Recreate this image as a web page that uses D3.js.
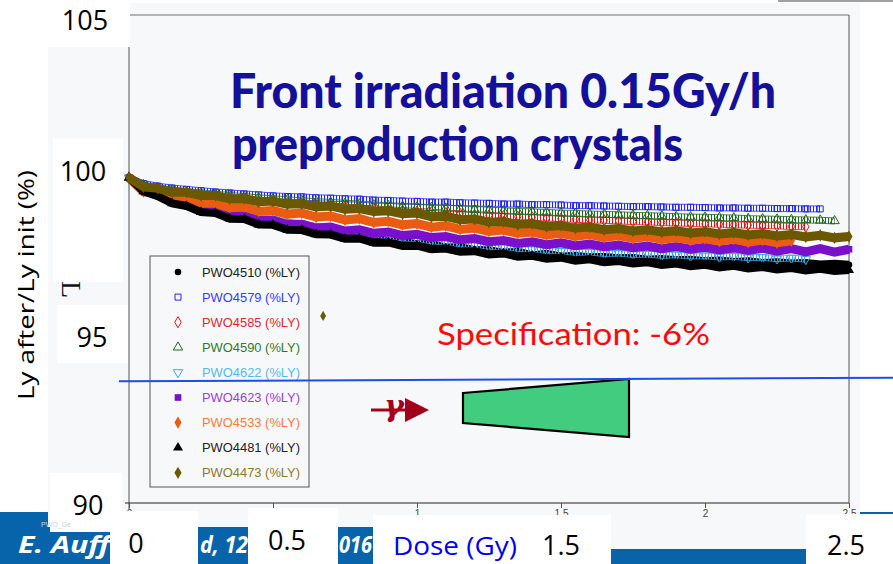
<!DOCTYPE html>
<html>
<head>
<meta charset="utf-8">
<script src="https://cdn.jsdelivr.net/npm/d3@7/dist/d3.min.js"></script>
<style>
  html, body { margin: 0; padding: 0; background: #fff; }
  svg { display: block; }
</style>
</head>
<body>
<svg id="chart" width="893" height="564"></svg>
<script>
// Relative light yield vs accumulated dose, front irradiation at 0.15 Gy/h
const doses = [0.00, 0.05, 0.10, 0.15, 0.20, 0.25, 0.30, 0.35, 0.40, 0.45,
  0.50, 0.55, 0.60, 0.65, 0.70, 0.75, 0.80, 0.85, 0.90, 0.95,
  1.00, 1.05, 1.10, 1.15, 1.20, 1.25, 1.30, 1.35, 1.40, 1.45,
  1.50, 1.55, 1.60, 1.65, 1.70, 1.75, 1.80, 1.85, 1.90, 1.95,
  2.00, 2.05, 2.10, 2.15, 2.20, 2.25, 2.30, 2.35, 2.40, 2.45,
  2.50];

const pwo4510 = [100.00, 99.70, 99.44, 99.36, 99.13, 99.11, 98.92, 98.91, 98.77, 98.71,
  98.59, 98.55, 98.44, 98.41, 98.30, 98.27, 98.17, 98.15, 98.04, 98.04,
  97.95, 97.95, 97.85, 97.86, 97.77, 97.77, 97.69, 97.72, 97.61, 97.66,
  97.57, 97.60, 97.55, 97.56, 97.52, 97.53, 97.48, 97.50, 97.46, 97.48,
  97.43, 97.45, 97.41, 97.43, 97.38, 97.40, 97.36, 97.38, 97.33, 97.35,
  97.32];
const pwo4579 = [100.00, 99.82, 99.74, 99.68, 99.64, 99.60, 99.56, 99.53, 99.50, 99.47,
  99.44, 99.42, 99.41, 99.38, 99.37, 99.35, 99.34, 99.31, 99.30, 99.28,
  99.27, 99.25, 99.25, 99.23, 99.22, 99.21, 99.19, 99.19, 99.17, 99.17,
  99.16, 99.14, 99.14, 99.13, 99.12, 99.11, 99.11, 99.10, 99.09, 99.09,
  99.08, 99.07, 99.07, 99.06, 99.06, 99.05, 99.05, 99.04, 99.04];
const pwo4585 = [100.00, 99.72, 99.62, 99.55, 99.50, 99.45, 99.41, 99.37, 99.33, 99.29,
  99.26, 99.22, 99.19, 99.16, 99.13, 99.10, 99.07, 99.04, 99.01, 98.99,
  98.96, 98.94, 98.91, 98.89, 98.86, 98.84, 98.82, 98.80, 98.78, 98.76,
  98.74, 98.72, 98.70, 98.69, 98.67, 98.65, 98.64, 98.62, 98.61, 98.59,
  98.58, 98.57, 98.55, 98.54, 98.53, 98.52, 98.50, 98.49];
const pwo4590 = [100.00, 99.78, 99.68, 99.62, 99.57, 99.53, 99.49, 99.45, 99.42, 99.38,
  99.35, 99.32, 99.29, 99.26, 99.24, 99.21, 99.19, 99.16, 99.14, 99.12,
  99.10, 99.08, 99.06, 99.04, 99.02, 99.00, 98.98, 98.96, 98.95, 98.93,
  98.91, 98.90, 98.88, 98.87, 98.86, 98.84, 98.83, 98.82, 98.80, 98.79,
  98.78, 98.77, 98.76, 98.74, 98.73, 98.72, 98.71, 98.70, 98.69, 98.67];
const pwo4622 = [100.00, 99.70, 99.52, 99.38, 99.24, 99.14, 99.04, 98.96, 98.88, 98.78,
  98.72, 98.63, 98.58, 98.50, 98.45, 98.37, 98.33, 98.26, 98.21, 98.15,
  98.12, 98.06, 98.02, 97.97, 97.94, 97.89, 97.86, 97.83, 97.79, 97.77,
  97.74, 97.71, 97.71, 97.67, 97.68, 97.64, 97.65, 97.61, 97.63, 97.59,
  97.60, 97.56, 97.58, 97.54, 97.55, 97.51, 97.53, 97.49];
const pwo4623 = [100.00, 99.62, 99.48, 99.29, 99.21, 99.02, 98.99, 98.84, 98.83, 98.68,
  98.69, 98.56, 98.57, 98.45, 98.48, 98.36, 98.40, 98.29, 98.33, 98.22,
  98.26, 98.16, 98.19, 98.09, 98.13, 98.03, 98.07, 97.98, 98.03, 97.94,
  98.00, 97.91, 97.96, 97.88, 97.93, 97.85, 97.90, 97.82, 97.88, 97.80,
  97.86, 97.78, 97.84, 97.76, 97.83, 97.74, 97.82, 97.72, 97.82, 97.71,
  97.80];
const pwo4533 = [100.00, 99.57, 99.51, 99.36, 99.35, 99.21, 99.21, 99.08, 99.10, 98.97,
  98.99, 98.88, 98.91, 98.79, 98.82, 98.70, 98.74, 98.62, 98.66, 98.55,
  98.59, 98.48, 98.52, 98.41, 98.45, 98.35, 98.39, 98.29, 98.33, 98.24,
  98.29, 98.20, 98.25, 98.16, 98.22, 98.13, 98.19, 98.10, 98.16, 98.08,
  98.13, 98.05, 98.11, 98.02, 98.08, 98.00, 98.06];
const pwo4481 = [100.00, 99.58, 99.43, 99.21, 99.13, 98.94, 98.91, 98.74, 98.73, 98.56,
  98.55, 98.40, 98.39, 98.26, 98.25, 98.12, 98.13, 98.00, 98.01, 97.90,
  97.91, 97.80, 97.82, 97.72, 97.74, 97.64, 97.67, 97.57, 97.60, 97.51,
  97.54, 97.45, 97.49, 97.40, 97.44, 97.36, 97.40, 97.32, 97.36, 97.28,
  97.32, 97.24, 97.29, 97.21, 97.25, 97.18, 97.22, 97.15, 97.20, 97.13,
  97.16];
const pwo4473 = [100.00, 99.72, 99.67, 99.55, 99.55, 99.45, 99.45, 99.35, 99.36, 99.26,
  99.28, 99.18, 99.20, 99.10, 99.13, 99.03, 99.05, 98.96, 98.98, 98.89,
  98.91, 98.80, 98.81, 98.71, 98.73, 98.63, 98.65, 98.56, 98.59, 98.50,
  98.53, 98.45, 98.48, 98.40, 98.44, 98.36, 98.40, 98.33, 98.37, 98.30,
  98.34, 98.27, 98.31, 98.24, 98.28, 98.21, 98.25, 98.18, 98.23, 98.15,
  98.19];
// single stray reading of PWO4473
const pwo4473Stray = [{ dose: 0.674, ly: 95.75 }];

const seriesNames = ["PWO4510 (%LY)", "PWO4579 (%LY)", "PWO4585 (%LY)", "PWO4590 (%LY)",
  "PWO4622 (%LY)", "PWO4623 (%LY)", "PWO4533 (%LY)", "PWO4481 (%LY)", "PWO4473 (%LY)"];
const seriesValues = [pwo4510, pwo4579, pwo4585, pwo4590, pwo4622, pwo4623, pwo4533, pwo4481, pwo4473];

// specification limit drawn across the slide (-6 %)
const specLine = [{ dose: -0.035, ly: 93.74 }, { dose: 2.653, ly: 93.85 }];

const xTicks = [0, 0.5, 1, 1.5, 2, 2.5];
const yLabelsBig = ["105", "100", "95", "90"];
const xLabelsBig = ["0", "0.5", "1.5", "2.5"];
const titleLines = ["Front irradiation 0.15Gy/h", "preproduction crystals"];
const specText = "Specification: -6%";
const footerParts = ["E. Auff", "d, 12", "016"];

// ---------- styles ----------
const styles = [
  { type: d3.symbolCircle,   size: 34, fill: "#000000", stroke: null,      band: 8, text: "#222222" },
  { type: d3.symbolSquare,   size: 36, fill: "none",    stroke: "#2424ff", band: 0, text: "#3b3bff" },
  { type: d3.symbolDiamond,  size: 36, fill: "none",    stroke: "#dd1414", band: 0, text: "#e02a2a" },
  { type: d3.symbolTriangle, size: 38, fill: "none",    stroke: "#1e6a1e", band: 0, text: "#2f7a30" },
  { type: d3.symbolTriangle, size: 38, fill: "none",    stroke: "#3aa9e9", band: 0, text: "#55b9ee", flip: true },
  { type: d3.symbolSquare,   size: 44, fill: "#7a10cc", stroke: null,      band: 9, text: "#9b3fd9" },
  { type: d3.symbolDiamond,  size: 44, fill: "#ea5c12", stroke: null,      band: 9, text: "#ff7a3a" },
  { type: d3.symbolTriangle, size: 44, fill: "#000000", stroke: null,      band: 8, text: "#222222" },
  { type: d3.symbolDiamond,  size: 44, fill: "#6b5800", stroke: null,      band: 9, text: "#8c7a1f" }
];

const svg = d3.select("#chart");
const x = d3.scaleLinear().domain([0, 2.5]).range([129, 849]);
const y = d3.scaleLinear().domain([90, 105]).range([503, 15]);

// vertical hatching used to render the dense runs of open markers
const defs = svg.append("defs");
styles.forEach((st, i) => {
  if (st.band > 0) return;
  const p = defs.append("pattern").attr("id", "hatch" + i).attr("patternUnits", "userSpaceOnUse")
    .attr("width", 3).attr("height", 12);
  p.append("rect").attr("x", 0).attr("y", 0).attr("width", 1).attr("height", 12).attr("fill", st.stroke);
});

// page background, footer band and chart panel
svg.append("rect").attr("width", 893).attr("height", 564).attr("fill", "#ffffff");
svg.append("rect").attr("x", 0).attr("y", 512).attr("width", 893).attr("height", 52).attr("fill", "#0764aa");
const footerPos = [[18, 92], [200, 48], [339, 33]];
footerParts.forEach((t, i) => {
  svg.append("text").attr("x", footerPos[i][0]).attr("y", 553)
    .attr("font-family", "'Open Sans', 'Noto Sans', sans-serif").attr("font-size", 23)
    .attr("font-weight", "bold").attr("font-style", "italic").attr("fill", "#ffffff")
    .attr("textLength", footerPos[i][1]).attr("lengthAdjust", "spacingAndGlyphs").text(t);
});

svg.append("rect").attr("x", 48).attr("y", 3).attr("width", 812).attr("height", 524).attr("fill", "#f7f8fa");
svg.append("rect").attr("x", 611).attr("y", 527).attr("width", 195).attr("height", 22).attr("fill", "#f7f8fa");
svg.append("rect").attr("x", 778).attr("y", 0).attr("width", 115).attr("height", 2).attr("fill", "#a0a0a0");

// frame
const frame = svg.append("g").attr("stroke", "#6e6e6e").attr("stroke-width", 1.2).attr("fill", "none");
frame.append("line").attr("x1", x(0)).attr("x2", x(2.5)).attr("y1", y(105)).attr("y2", y(105));
frame.append("line").attr("x1", x(2.5)).attr("x2", x(2.5)).attr("y1", y(105)).attr("y2", y(90));
frame.append("line").attr("x1", x(0)).attr("x2", x(0)).attr("y1", y(105)).attr("y2", y(90) + 6);

const xAxis = svg.append("g").attr("transform", `translate(0,${y(90)})`)
  .call(d3.axisBottom(x).tickValues(xTicks).tickSize(5).tickSizeOuter(0).tickFormat(d3.format("")));
xAxis.select(".domain").attr("stroke", "#222").attr("d", `M${x(0) - 4},0H${x(2.5)}`);
xAxis.selectAll(".tick line").attr("stroke", "#555");
xAxis.selectAll(".tick text").attr("font-family", "'Liberation Sans', Arial, sans-serif")
  .attr("font-size", 10).attr("fill", "#444").attr("dy", "0.6em");

// data
const plot = svg.append("g");
const lineGen = d3.line().x(d => x(d.dose)).y(d => y(d.ly));
seriesValues.forEach((vals, i) => {
  const st = styles[i];
  const pts = vals.map((v, j) => ({ dose: doses[j], ly: v }));
  const g = plot.append("g");
  if (st.band > 0) {
    g.append("path").datum(pts).attr("d", lineGen).attr("fill", "none")
      .attr("stroke", st.fill).attr("stroke-width", st.band).attr("stroke-linejoin", "miter");
  } else {
    g.append("path").datum(pts).attr("d", lineGen).attr("fill", "none")
      .attr("stroke", `url(#hatch${i})`).attr("stroke-width", 6);
    g.append("path").datum(pts).attr("d", lineGen).attr("fill", "none")
      .attr("stroke", st.stroke).attr("stroke-width", 0.8).attr("transform", "translate(0,-3)");
    g.append("path").datum(pts).attr("d", lineGen).attr("fill", "none")
      .attr("stroke", st.stroke).attr("stroke-width", 0.8).attr("transform", "translate(0,3)");
  }
  const sym = d3.symbol().type(st.type).size(st.size);
  g.selectAll("path.mk").data(pts).join("path").attr("class", "mk")
    .attr("d", sym)
    .attr("transform", d => `translate(${x(d.dose)},${y(d.ly)})${st.flip ? " rotate(180)" : ""}`)
    .attr("fill", st.fill === "none" ? "none" : st.fill)
    .attr("stroke", st.stroke || "none").attr("stroke-width", 1);
});
plot.selectAll("path.stray").data(pwo4473Stray).join("path").attr("class", "stray")
  .attr("d", d3.symbol().type(d3.symbolDiamond).size(30))
  .attr("transform", d => `translate(${x(d.dose)},${y(d.ly)})`).attr("fill", styles[8].fill);

// legend
const legend = svg.append("g");
legend.append("rect").attr("x", 150).attr("y", 256).attr("width", 159).attr("height", 231)
  .attr("fill", "#f7f8fa").attr("stroke", "#555").attr("stroke-width", 1);
seriesNames.forEach((name, i) => {
  const st = styles[i];
  const ly = 272 + i * 25.1;
  legend.append("path").attr("d", d3.symbol().type(st.type).size(st.size)())
    .attr("transform", `translate(178,${ly})${st.flip ? " rotate(180)" : ""}`)
    .attr("fill", st.fill === "none" ? "none" : st.fill)
    .attr("stroke", st.stroke || "none").attr("stroke-width", 1);
  legend.append("text").attr("x", 202).attr("y", ly + 4.5)
    .attr("font-family", "'Liberation Sans', Arial, sans-serif").attr("font-size", 12.5)
    .attr("fill", st.text).attr("textLength", 98).attr("lengthAdjust", "spacingAndGlyphs").text(name);
});

// title
const titleFont = "'Comic Sans MS', Lato, 'DejaVu Sans', sans-serif";
svg.append("text").attr("x", 230).attr("y", 108).attr("font-family", titleFont)
  .attr("font-size", 47).attr("font-weight", 900).attr("fill", "#15109a")
  .attr("textLength", 546).attr("lengthAdjust", "spacingAndGlyphs").text(titleLines[0]);
svg.append("text").attr("x", 232).attr("y", 161).attr("font-family", titleFont)
  .attr("font-size", 47).attr("font-weight", 900).attr("fill", "#15109a")
  .attr("textLength", 451).attr("lengthAdjust", "spacingAndGlyphs").text(titleLines[1]);

// specification annotation
svg.append("text").attr("x", 437).attr("y", 345).attr("font-family", titleFont)
  .attr("font-size", 30).attr("fill", "#ff0a0a")
  .attr("textLength", 273).attr("lengthAdjust", "spacingAndGlyphs").text(specText);

// crystal sketch and incoming gamma arrow
svg.append("polygon").attr("points", "463,393 629,379 629,437 463,423")
  .attr("fill", "#41cc80").attr("stroke", "#000").attr("stroke-width", 2.2).attr("stroke-linejoin", "miter");
const arrow = svg.append("g").attr("fill", "#a2001a").attr("stroke", "#a2001a");
arrow.append("line").attr("x1", 371).attr("x2", 408).attr("y1", 410).attr("y2", 410).attr("stroke-width", 3);
arrow.append("polygon").attr("points", "405,398 429,410 405,422").attr("stroke", "none");
arrow.append("text").attr("x", 394).attr("y", 416).attr("text-anchor", "middle")
  .attr("font-family", "'DejaVu Serif', 'Liberation Serif', serif").attr("font-style", "italic")
  .attr("font-weight", "bold").attr("font-size", 30).attr("stroke", "none").text("γ");

// spec line
svg.append("path").datum(specLine).attr("d", lineGen).attr("fill", "none")
  .attr("stroke", "#1a50e8").attr("stroke-width", 2);

// fragment of an older axis title
svg.append("text").attr("transform", "translate(62,281) rotate(90)")
  .attr("font-family", "'Liberation Serif', serif").attr("font-size", 28).attr("fill", "#111").text("L");

// white label patches with large tick labels
const patches = [
  [40, 0, 90, 47], [53, 138, 70, 144], [57, 305, 71, 58], [50, 473, 72, 59],
  [110, 511, 88, 53], [248, 508, 90, 56], [373, 515, 238, 49], [806, 514, 87, 50]
];
svg.append("g").selectAll("rect").data(patches).join("rect")
  .attr("x", d => d[0]).attr("y", d => d[1]).attr("width", d => d[2]).attr("height", d => d[3])
  .attr("fill", "#ffffff");

const bigFont = "'Open Sans', 'Noto Sans', sans-serif";
const yLabelPos = [[85, 30], [83, 181], [92, 347], [88, 515]];
yLabelsBig.forEach((t, i) => {
  svg.append("text").attr("x", yLabelPos[i][0]).attr("y", yLabelPos[i][1]).attr("text-anchor", "middle")
    .attr("font-family", bigFont).attr("font-size", 27).attr("fill", "#000").text(t);
});
const xLabelPos = [[136, 553], [287, 550], [561, 555], [846, 555]];
xLabelsBig.forEach((t, i) => {
  svg.append("text").attr("x", xLabelPos[i][0]).attr("y", xLabelPos[i][1]).attr("text-anchor", "middle")
    .attr("font-family", bigFont).attr("font-size", 27).attr("fill", "#000").text(t);
});
svg.append("text").attr("x", 393).attr("y", 555).attr("font-family", bigFont)
  .attr("font-size", 26).attr("fill", "#0000f0")
  .attr("textLength", 124).attr("lengthAdjust", "spacingAndGlyphs").text("Dose (Gy)");

// y axis title
svg.append("text").attr("transform", "translate(34,285) rotate(-90)").attr("text-anchor", "middle")
  .attr("font-family", bigFont).attr("font-size", 22).attr("fill", "#000")
  .attr("textLength", 230).attr("lengthAdjust", "spacingAndGlyphs").text("Ly after/Ly init (%)");

// tiny file caption
svg.append("text").attr("x", 41).attr("y", 527).attr("font-family", "'Liberation Sans', Arial, sans-serif")
  .attr("font-size", 7).attr("fill", "#c8d4e4").text("PWO_Ge");
</script>
</body>
</html>
